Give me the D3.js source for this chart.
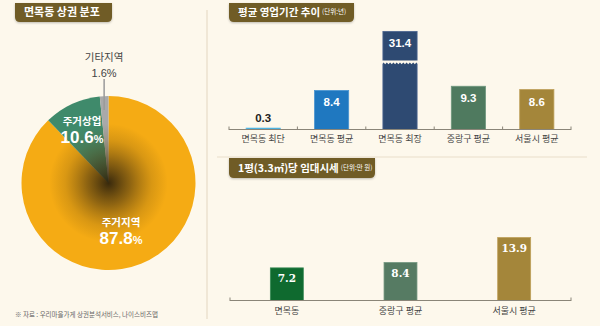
<!DOCTYPE html>
<html><head><meta charset="utf-8">
<script src="https://cdn.jsdelivr.net/npm/d3@7/dist/d3.min.js"></script>
<style>
html,body{margin:0;padding:0;background:#fdf8ec;}
svg{display:block;}
</style></head>
<body>
<script>
// ---- data ----
const pieLabels = ["주거지역", "주거상업", "기타지역"];
const pieValues = [87.8, 10.6, 1.6];

const bizCategories = ["면목동 최단", "면목동 평균", "면목동 최장", "중랑구 평균", "서울시 평균"];
const bizValues = [0.3, 8.4, 31.4, 9.3, 8.6];

const rentCategories = ["면목동", "중랑구 평균", "서울시 평균"];
const rentValues = [7.2, 8.4, 13.9];

const titles = ["면목동 상권 분포", "평균 영업기간 추이", "1평(3.3㎡)당 임대시세"];
const titleUnits = ["", "(단위:년)", "(단위:만 원)"];
const sourceNote = "※ 자료 : 우리마을가게 상권분석서비스, 나이스비즈맵";

// ---- styles ----
const KR = "'Noto Sans CJK KR','Noto Sans',sans-serif";
const NUM = "'Liberation Sans',Arial,sans-serif";
const SERIF = "'DejaVu Serif','Liberation Serif',serif";
const pieColors = ["#f5ab14", "#3f8a6b", "#a9a9a9"];
const bizColors = ["#2ba2da", "#1f78c0", "#2e4a72", "#4f7a5f", "#a4863a"];
const bizStroke = ["#5cbbe6", "#4a95d0", "#4d6690", "#6f977e", "#bfa05a"];
const rentColors = ["#0f6a2f", "#567b63", "#a4863a"];
const rentStroke = ["#3a8a55", "#779a83", "#bfa05a"];

const W = 600, H = 326;
const svg = d3.select("body").append("svg").attr("width", W).attr("height", H);
svg.append("rect").attr("width", W).attr("height", H).attr("fill", "#fdf8ec");

const defs = svg.append("defs");
const rg = defs.append("radialGradient").attr("id", "pieShade");
rg.append("stop").attr("offset", "0%").attr("stop-color", "#2e220c").attr("stop-opacity", 0.95);
rg.append("stop").attr("offset", "25%").attr("stop-color", "#4a3510").attr("stop-opacity", 0.6);
rg.append("stop").attr("offset", "50%").attr("stop-color", "#6a4a10").attr("stop-opacity", 0.2);
rg.append("stop").attr("offset", "68%").attr("stop-color", "#6a4a10").attr("stop-opacity", 0);
const sh = defs.append("filter").attr("id", "tshadow").attr("x", "-10%").attr("y", "-20%").attr("width", "120%").attr("height", "160%");
sh.append("feDropShadow").attr("dx", 0).attr("dy", 1).attr("stdDeviation", 0.8).attr("flood-color", "#000").attr("flood-opacity", 0.25);

// dividers
svg.append("line").attr("x1", 207).attr("x2", 207).attr("y1", 10).attr("y2", 319)
  .attr("stroke", "#ebe2cf").attr("stroke-width", 1.5);
svg.append("line").attr("x1", 217).attr("x2", 587).attr("y1", 157).attr("y2", 157)
  .attr("stroke", "#efe7d6").attr("stroke-width", 1.5);

// title boxes
function titleBox(x, y, w, h, text, unit, fs) {
  const g = svg.append("g");
  const r = 5;
  g.append("path")
    .attr("d", `M${x},${y} H${x + w} V${y + h - r} Q${x + w},${y + h} ${x + w - r},${y + h} H${x + r} Q${x},${y + h} ${x},${y + h - r} Z`)
    .attr("fill", "#6f5b25").attr("filter", "url(#tshadow)");
  const t = g.append("text").attr("x", x + 9).attr("y", y + h / 2 + fs * 0.36)
    .attr("font-family", KR).attr("font-weight", 700).attr("font-size", fs).attr("fill", "#fff");
  t.append("tspan").text(text);
  if (unit) t.append("tspan").attr("dx", 2).attr("font-size", 6.5).attr("font-weight", 400).attr("dy", -2).text(unit);
}
titleBox(15, 3, 97, 19, titles[0], titleUnits[0], 11);
titleBox(229, 3, 125, 19, titles[1], titleUnits[1], 10.5);
titleBox(229, 158, 146, 20, titles[2], titleUnits[2], 10.5);

// ---- pie ----
const cx = 108.5, cy = 183, R = 87;
const pie = d3.pie().sort(null).startAngle(0).endAngle(2 * Math.PI);
const arcs = pie(pieValues);
const arc = d3.arc().innerRadius(0).outerRadius(R);
const pg = svg.append("g").attr("transform", `translate(${cx},${cy})`);
pg.selectAll("path.slice").data(arcs).join("path").attr("class", "slice")
  .attr("d", arc).attr("fill", (d, i) => pieColors[i]);
pg.append("circle").attr("r", R).attr("fill", "url(#pieShade)");

// leader line for small slice
const small = arcs[2];
const ma = (small.startAngle + small.endAngle) / 2;
const lx = Math.sin(ma) * R;
pg.append("line").attr("x1", lx).attr("x2", lx).attr("y1", -R + 14).attr("y2", -R - 17)
  .attr("stroke", "#9a9a9a").attr("stroke-width", 1.5);
svg.append("text").attr("x", cx + lx).attr("y", 61).attr("text-anchor", "middle")
  .attr("font-family", KR).attr("font-size", 10.5).attr("fill", "#444").text(pieLabels[2]);
svg.append("text").attr("x", cx + lx).attr("y", 77).attr("text-anchor", "middle")
  .attr("font-family", NUM).attr("font-size", 11).attr("fill", "#444").text(pieValues[2] + "%");

function pieLabel(x, y, i) {
  svg.append("text").attr("x", x).attr("y", y).attr("text-anchor", "middle")
    .attr("font-family", KR).attr("font-weight", 700).attr("font-size", 10.5).attr("fill", "#fff").text(pieLabels[i]);
  const t = svg.append("text").attr("x", x).attr("y", y + 18).attr("text-anchor", "middle")
    .attr("font-family", NUM).attr("font-weight", 700).attr("fill", "#fff");
  t.append("tspan").attr("font-size", 17).text(pieValues[i].toFixed(1));
  t.append("tspan").attr("font-size", 11).text("%");
}
pieLabel(82, 125, 1);
pieLabel(121, 226, 0);

svg.append("text").attr("x", 15).attr("y", 316.5).attr("font-family", KR).attr("font-size", 6.5)
  .attr("fill", "#666").text(sourceNote);

// ---- top bar chart ----
const base1 = 129.5;
const breakCap = 21.1; // visual cap for broken bar
const x1 = d3.scaleBand().domain(bizCategories).range([229, 571]).paddingInner(0.5).paddingOuter(0.25);
const y1 = d3.scaleLinear().domain([0, 22]).range([base1, base1 - 22 * 4.65]);
const g1 = svg.append("g");
g1.selectAll("rect").data(bizValues).join("rect")
  .attr("x", (d, i) => x1(bizCategories[i]))
  .attr("width", x1.bandwidth())
  .attr("y", d => y1(Math.min(d, breakCap)))
  .attr("height", d => base1 - y1(Math.min(d, breakCap)))
  .attr("fill", (d, i) => bizColors[i])
  .attr("stroke", (d, i) => bizStroke[i]).attr("stroke-width", 0.8);

// break marker
bizValues.forEach((d, i) => {
  if (d > breakCap) {
    const bx = x1(bizCategories[i]), bw = x1.bandwidth();
    const yb = 62;
    let top = `M${bx - 1},${yb - 1.5}`;
    top += ` L${bx + bw + 1},${yb - 1.5}`;
    let pts = [];
    const n = 11;
    for (let k = n; k >= 0; k--) {
      const px = bx - 1 + (bw + 2) * k / n;
      pts.push(`L${px},${yb + 2.2}`);
      if (k > 0) pts.push(`L${px - (bw + 2) / n / 2},${yb + 0.6}`);
    }
    g1.append("path").attr("d", top + " " + pts.join(" ") + " Z").attr("fill", "#fdf8ec");
  }
});

g1.selectAll("text.val").data(bizValues).join("text").attr("class", "val")
  .attr("x", (d, i) => x1(bizCategories[i]) + x1.bandwidth() / 2)
  .attr("y", d => d < 2 ? y1(d) - 6 : y1(Math.min(d, breakCap)) + 16)
  .attr("text-anchor", "middle").attr("font-family", NUM).attr("font-weight", 700)
  .attr("font-size", 11.5).attr("fill", d => d < 2 ? "#222" : "#fff")
  .text(d => d.toFixed(1));

// axis
const ax1 = g1.append("g");
ax1.append("line").attr("x1", 229).attr("x2", 571).attr("y1", base1).attr("y2", base1)
  .attr("stroke", "#8a8578").attr("stroke-width", 1);
const tickXs1 = [229].concat(bizCategories.map(c => x1(c) + x1.bandwidth() + x1.step() * x1.paddingInner() / 2));
tickXs1[tickXs1.length - 1] = 571;
ax1.selectAll("line.t").data(tickXs1).join("line").attr("class", "t")
  .attr("x1", d => d).attr("x2", d => d).attr("y1", base1 - 3).attr("y2", base1 + 0.5)
  .attr("stroke", "#8a8578").attr("stroke-width", 1);
ax1.selectAll("text").data(bizCategories).join("text")
  .attr("x", d => x1(d) + x1.bandwidth() / 2).attr("y", 142)
  .attr("text-anchor", "middle").attr("font-family", KR).attr("font-size", 9).attr("fill", "#444")
  .text(d => d);

// ---- bottom bar chart ----
const base2 = 300.5;
const x2 = d3.scaleBand().domain(rentCategories).range([230, 571]).paddingInner(0.71).paddingOuter(0.355);
const y2 = d3.scaleLinear().domain([0, 14]).range([base2, base2 - 14 * 4.53]);
const g2 = svg.append("g");
g2.selectAll("rect").data(rentValues).join("rect")
  .attr("x", (d, i) => x2(rentCategories[i]))
  .attr("width", x2.bandwidth())
  .attr("y", d => y2(d))
  .attr("height", d => base2 - y2(d))
  .attr("fill", (d, i) => rentColors[i])
  .attr("stroke", (d, i) => rentStroke[i]).attr("stroke-width", 0.8);
g2.selectAll("text.val").data(rentValues).join("text").attr("class", "val")
  .attr("x", (d, i) => x2(rentCategories[i]) + x2.bandwidth() / 2)
  .attr("y", d => y2(d) + 14.5)
  .attr("text-anchor", "middle").attr("font-family", SERIF).attr("font-weight", 700)
  .attr("font-size", 10.5).attr("fill", "#fff").text(d => d.toFixed(1));
g2.append("line").attr("x1", 230).attr("x2", 571).attr("y1", base2).attr("y2", base2)
  .attr("stroke", "#8a8578").attr("stroke-width", 1);
g2.selectAll("line.t").data([230, 571]).join("line").attr("class", "t")
  .attr("x1", d => d).attr("x2", d => d).attr("y1", base2 - 3).attr("y2", base2 + 0.5)
  .attr("stroke", "#8a8578").attr("stroke-width", 1);
g2.selectAll("text.cat").data(rentCategories).join("text").attr("class", "cat")
  .attr("x", d => x2(d) + x2.bandwidth() / 2).attr("y", 314)
  .attr("text-anchor", "middle").attr("font-family", KR).attr("font-size", 9).attr("fill", "#444")
  .text(d => d);
</script>
</body></html>
